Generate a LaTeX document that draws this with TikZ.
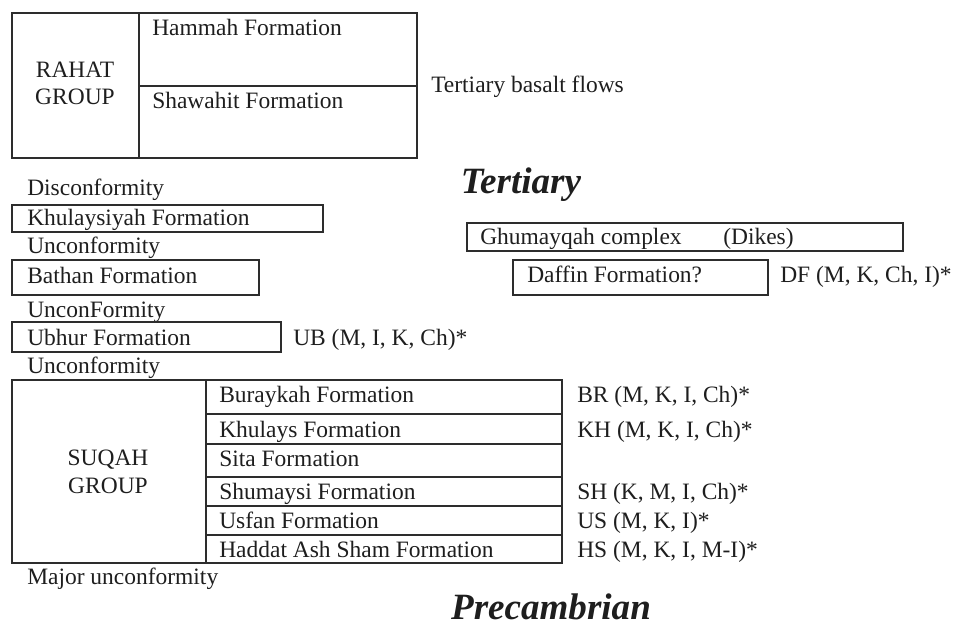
\documentclass[tikz,border=0pt]{standalone}
\usepackage{fontspec}
\setmainfont{Liberation Serif}
\usepackage{tikz}
\usepackage{xcolor}

\definecolor{ink}{RGB}{30,30,30}
\definecolor{rule}{RGB}{45,45,45}

\tikzset{
  unitbox/.style={draw=rule, line width=1.1pt},
  txt/.style={anchor=base west, inner sep=0pt, text=ink, font=\fontsize{17.6}{21}\selectfont},
  grp/.style={txt, anchor=base},
  era/.style={anchor=base, inner sep=0pt, text=ink, font=\fontsize{27.8}{33}\selectfont\bfseries\itshape}
}

\begin{document}
\begin{tikzpicture}[x=0.75pt,y=0.75pt,yscale=-1,xscale=1]
\useasboundingbox (0,0) rectangle (953,628);

%Shape: Rahat group box
\draw [unitbox] (12,13) rectangle (417,158) ;
\draw [unitbox] (139,13) -- (139,158) ;
\draw [unitbox] (139,86) -- (417,86) ;
% Text Node
\node [grp] (rahat) at (75,77) {RAHAT};
\node [grp] (rahatgroup) at (75,104) {GROUP};
\node [txt] (hammah) at (152,35) {Hammah Formation};
\node [txt] (shawahit) at (152,108) {Shawahit Formation};
\node [txt] (basalt) at (431,92) {Tertiary basalt flows};

%Era label
\node [era] (tertiary) at (521,193) {Tertiary};

% Text Node
\node [txt] (discon) at (27,195) {Disconformity};
%Shape: Khulaysiyah box
\draw [unitbox] (12,205) rectangle (323,232) ;
\node [txt] (khulaysiyah) at (27,225) {Khulaysiyah Formation};
\node [txt] (uncon1) at (27,253) {Unconformity};
%Shape: Bathan box
\draw [unitbox] (12,260) rectangle (259,295) ;
\node [txt] (bathan) at (27,283) {Bathan Formation};
\node [txt] (uncon2) at (27,317) {UnconFormity};
%Shape: Ubhur box
\draw [unitbox] (12,322) rectangle (281,352) ;
\node [txt] (ubhur) at (27,345) {Ubhur Formation};
\node [txt] (ubhurref) at (293,345) {UB (M, I, K, Ch)*};
\node [txt] (uncon3) at (27,373) {Unconformity};

%Shape: Ghumayqah box
\draw [unitbox] (467,223) rectangle (903,251) ;
\node [txt] (ghumayqah) at (480,244) {Ghumayqah complex};
\node [txt] (dikes) at (723,244) {(Dikes)};
%Shape: Daffin box
\draw [unitbox] (513,260) rectangle (768,295) ;
\node [txt] (daffin) at (527,282) {Daffin Formation?};
\node [txt] (daffinref) at (780,282) {DF (M, K, Ch, I)*};

%Shape: Suqah group box
\draw [unitbox] (12,380) rectangle (562,563) ;
\draw [unitbox] (206,380) -- (206,563) ;
\draw [unitbox] (206,414) -- (562,414) ;
\draw [unitbox] (206,444) -- (562,444) ;
\draw [unitbox] (206,477) -- (562,477) ;
\draw [unitbox] (206,506) -- (562,506) ;
\draw [unitbox] (206,535) -- (562,535) ;
% Text Node
\node [grp] (suqah) at (108,465) {SUQAH};
\node [grp] (suqahgroup) at (108,493) {GROUP};
\node [txt] (buraykah) at (219,402) {Buraykah Formation};
\node [txt] (khulays) at (219,437) {Khulays Formation};
\node [txt] (sita) at (219,466) {Sita Formation};
\node [txt] (shumaysi) at (219,499) {Shumaysi Formation};
\node [txt] (usfan) at (219,528) {Usfan Formation};
\node [txt] (haddat) at (219,557) {Haddat Ash Sham Formation};
% Text Node
\node [txt] (buraykahref) at (577,402) {BR (M, K, I, Ch)*};
\node [txt] (khulaysref) at (577,437) {KH (M, K, I, Ch)*};
\node [txt] (shumaysiref) at (577,499) {SH (K, M, I, Ch)*};
\node [txt] (usfanref) at (577,528) {US (M, K, I)*};
\node [txt] (haddatref) at (577,557) {HS (M, K, I, M-I)*};

\node [txt] (majoruncon) at (27,584) {Major unconformity};
%Era label
\node [era] (precambrian) at (551,619) {Precambrian};

\end{tikzpicture}
\end{document}
